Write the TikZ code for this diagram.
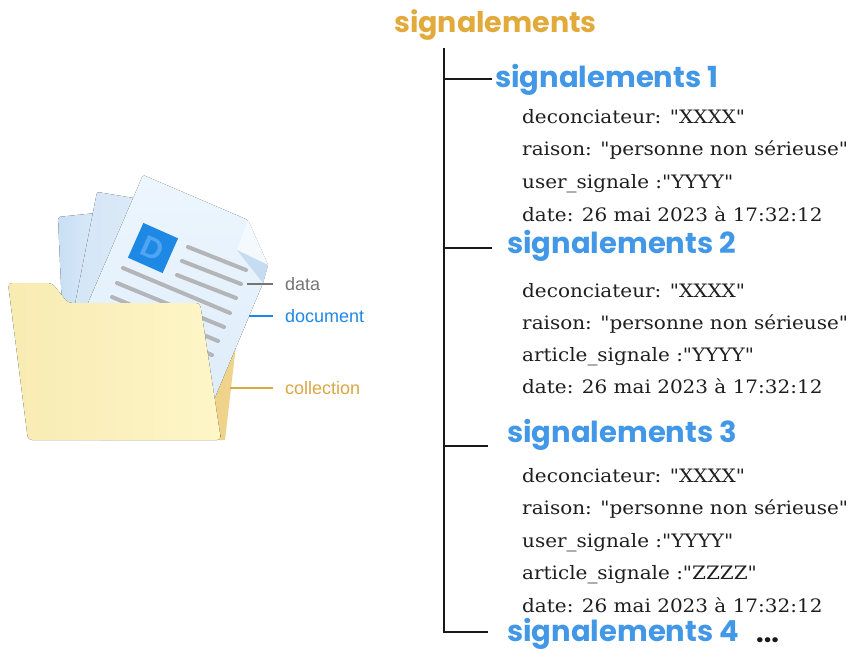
\documentclass[tikz,border=0pt]{standalone}
\usepackage{fontspec}
\setmainfont{DejaVu Serif}[FakeStretch=1.08, Ligatures=TeXOff]
\newfontfamily\headfont{Poppins}
\newfontfamily\labelfont{Liberation Sans}
\newcommand\qq{\symbol{34}}
\definecolor{rootorange}{HTML}{E2A93B}
\definecolor{headblue}{HTML}{4298E6}
\definecolor{labelgrey}{HTML}{757575}
\definecolor{labelblue}{HTML}{1E88E5}
\definecolor{labelorange}{HTML}{DBA743}
\definecolor{sheetA}{HTML}{EDF6FE}
\definecolor{sheetB}{HTML}{DCEBF9}
\definecolor{backsheetA}{HTML}{C9DFF4}
\definecolor{backsheetB}{HTML}{DCEAF8}
\definecolor{fold}{HTML}{C6DCF1}
\definecolor{foldlight}{HTML}{F4F9FE}
\definecolor{textline}{HTML}{B3B5B8}
\definecolor{iconblue}{HTML}{1E88E5}
\definecolor{iconletter}{HTML}{4FA5F2}
\definecolor{folderA}{HTML}{F8EBB2}
\definecolor{folderB}{HTML}{FEF6C8}
\definecolor{folderback}{HTML}{F0D38B}
\tikzset{
  roothead/.style={anchor=base west, inner sep=0pt, text=rootorange,
    font=\headfont\bfseries\fontsize{28.5}{28.5}\selectfont},
  subhead/.style={anchor=base west, inner sep=0pt, text=headblue,
    font=\headfont\bfseries\fontsize{29}{29}\selectfont},
  field/.style={anchor=base west, inner sep=0pt, text=black!88,
    font=\fontsize{18.5}{18.5}\selectfont},
  tag/.style={anchor=west, inner sep=0pt, font=\labelfont\fontsize{18}{18}\selectfont},
  branch/.style={line width=2.4pt, black!90},
  docline/.style={line width=4pt, textline, line cap=round},
  tagline/.style={line width=2pt},
}
\begin{document}
\begin{tikzpicture}[x=1pt,y=-1pt]
\useasboundingbox (0,0) rectangle (854,650);
\fill[white] (0,0) rectangle (854,650);

% ---------- folder illustration ----------
% back panel of the folder
\fill[folderback] (100,300) -- (238,328) -- (225,440) -- (100,440) -- cycle;
% sheets standing behind the main one
\fill[left color=backsheetA, right color=backsheetB, rounded corners=2pt]
  (58,217) -- (96,213) -- (100,330) -- (63,330) -- cycle;
\fill[left color=backsheetA!80!white, right color=backsheetB, rounded corners=2pt]
  (97,192) -- (140,199) -- (125,330) -- (70,330) -- cycle;
% main document sheet
\fill[top color=sheetA, bottom color=sheetB, rounded corners=1.5pt]
  (143,175) -- (248,220) -- (268,265) -- (263,283) -- (200,433) -- (70,345) -- cycle;
% dog-ear corner
\fill[foldlight] (248,220) -- (268,265) -- (237,250) -- cycle;
\fill[fold] (237,250) -- (268,265) -- (263,283) -- cycle;
% text lines on the sheet
\draw[docline] (188,247) -- (246,270);
\draw[docline] (182,261) -- (241,284);
\draw[docline] (177,275) -- (236,298);
\draw[docline] (123,268) -- (230,313);
\draw[docline] (117,283) -- (224,327);
\draw[docline] (112,297) -- (218,341);
\draw[docline] (106,311) -- (212,355);
\draw[docline] (101,326) -- (206,369);
% blue icon with its letter
\node[fill=iconblue, minimum size=38pt, inner sep=0pt, rotate=-24,
      text=iconletter, font=\labelfont\bfseries\fontsize{30}{30}\selectfont]
  (icon) at (153,248) {D};
% front of the folder
\fill[left color=folderA, right color=folderB, rounded corners=4pt]
  (8,283) -- (52,283) -- (68,303) -- (200,303) -- (221,440) -- (28,440) -- cycle;

% labels of the illustration
\node[tag, text=labelgrey]   (data)       at (285,284) {data};
\node[tag, text=labelblue]   (document)   at (285,316) {document};
\node[tag, text=labelorange] (collection) at (285,388) {collection};
\coordinate (dataend) at (247,284);
\coordinate (docend)  at (249,316);
\coordinate (colend)  at (230,388);
\draw[tagline, labelgrey]   (dataend) -- ([xshift=-12pt]data.west);
\draw[tagline, labelblue]   (docend)  -- ([xshift=-12pt]document.west);
\draw[tagline, labelorange] (colend)  -- ([xshift=-12pt]collection.west);

% ---------- tree of reports ----------
\node[roothead] (root) at (394,33) {signalements};
\node[subhead] (s1) at (495,88)  {signalements 1};
\node[subhead] (s2) at (507,253) {signalements 2};
\node[subhead] (s3) at (507,442) {signalements 3};
\node[subhead] (s4) at (507,641) {signalements 4};
\node[anchor=base west, inner sep=0pt, text=black!90,
      font=\headfont\bfseries\fontsize{27}{27}\selectfont] (more) at (756,642) {...};

\coordinate (trunktop) at (444,48);
\coordinate (trunkbot) at (444,633);
\coordinate (k1) at (444,79);
\coordinate (k2) at (444,248);
\coordinate (k3) at (444,446);
\coordinate (k4) at (444,632);
\coordinate (e1) at (492,79);
\coordinate (e2) at (492,248);
\coordinate (e3) at (488,446);
\coordinate (e4) at (488,632);
\draw[branch] (trunktop) -- (trunkbot);
\draw[branch] (k1) -- (e1);
\draw[branch] (k2) -- (e2);
\draw[branch] (k3) -- (e3);
\draw[branch] (k4) -- (e4);

% fields of each report
\node[field] (a1) at (522,124) {deconciateur: \qq XXXX\qq};
\node[field] (a2) at (522,156) {raison: \qq personne non sérieuse\qq};
\node[field] (a3) at (522,188) {user\_signale :\qq YYYY\qq};
\node[field] (a4) at (522,221) {date: 26 mai 2023 à 17:32:12};

\node[field] (b1) at (522,297) {deconciateur: \qq XXXX\qq};
\node[field] (b2) at (522,329) {raison: \qq personne non sérieuse\qq};
\node[field] (b3) at (522,361) {article\_signale :\qq YYYY\qq};
\node[field] (b4) at (522,393) {date: 26 mai 2023 à 17:32:12};

\node[field] (c1) at (522,482) {deconciateur: \qq XXXX\qq};
\node[field] (c2) at (522,514) {raison: \qq personne non sérieuse\qq};
\node[field] (c3) at (522,547) {user\_signale :\qq YYYY\qq};
\node[field] (c4) at (522,579) {article\_signale :\qq ZZZZ\qq};
\node[field] (c5) at (522,612) {date: 26 mai 2023 à 17:32:12};
\end{tikzpicture}
\end{document}
